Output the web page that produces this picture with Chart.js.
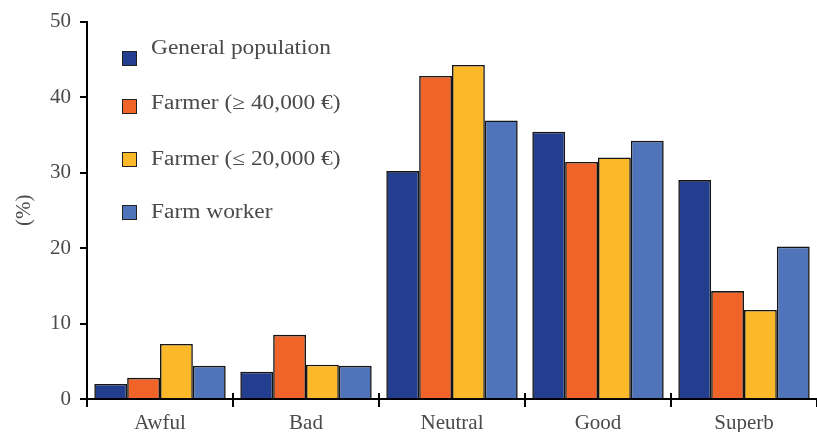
<!DOCTYPE html>
<html>
<head>
<meta charset="utf-8">
<script src="https://cdn.jsdelivr.net/npm/chart.js@4.4.1/dist/chart.umd.min.js"></script>
<style>
  html, body { margin: 0; padding: 0; background: #fff; }
  #wrap { position: relative; width: 817px; height: 432px; }
  #legend { position: absolute; left: 0; top: 0; font-family: 'Liberation Serif', serif; font-size: 20px; color: #4a4a4a; }
  .item { position: absolute; white-space: nowrap; transform: scaleX(1.17); transform-origin: left center; }
  .box { position: absolute; width: 13px; height: 13px; border: 1px solid #222; }
</style>
</head>
<body>
<div id="wrap">
  <canvas id="ratingChart" width="817" height="432"></canvas>
  <div id="legend"></div>
</div>
<script>
// data
const categories = ['Awful', 'Bad', 'Neutral', 'Good', 'Superb'];
const seriesNames = ['General population', 'Farmer (\u2265 40,000 \u20ac)', 'Farmer (\u2264 20,000 \u20ac)', 'Farm worker'];
const generalPopulation = [2.0, 3.6, 30.2, 35.4, 29.0];
const farmerHigh = [2.8, 8.5, 42.8, 31.4, 14.3];
const farmerLow = [7.3, 4.55, 44.25, 32.0, 11.8];
const farmWorker = [4.4, 4.4, 36.9, 34.2, 20.2];
const yTicks = [0, 10, 20, 30, 40, 50];

const colors = ['#233e8e', '#f0642a', '#fbb829', '#4f74ba'];
const seriesValues = [generalPopulation, farmerHigh, farmerLow, farmWorker];

const serif = "'Liberation Serif', 'Times New Roman', serif";

// small tick marks that cross the x axis between categories
const crossTicks = {
    id: 'crossTicks',
    afterDraw(chart) {
        const x = chart.scales.x;
        const y0 = chart.scales.y.getPixelForValue(0);
        const ctx = chart.ctx;
        ctx.save();
        ctx.strokeStyle = '#000';
        ctx.lineWidth = 2;
        for (let i = 1; i < categories.length; i++) {
            const px = (x.getPixelForValue(i - 1) + x.getPixelForValue(i)) / 2;
            ctx.beginPath();
            ctx.moveTo(px, y0 - 6);
            ctx.lineTo(px, y0);
            ctx.stroke();
        }
        ctx.restore();
    }
};

const ctx = document.getElementById('ratingChart').getContext('2d');
const ratingChart = new Chart(ctx, {
    type: 'bar',
    data: {
        labels: categories,
        datasets: seriesNames.map((name, i) => ({
            label: name,
            data: seriesValues[i],
            backgroundColor: colors[i],
            borderColor: '#151515',
            borderWidth: 1.6,
            categoryPercentage: 0.9,
            barPercentage: 1.0
        }))
    },
    options: {
        responsive: false,
        animation: false,
        layout: { padding: { top: 19, right: 0, bottom: 0, left: 0 } },
        plugins: {
            legend: { display: false },
            tooltip: { enabled: false }
        },
        scales: {
            x: {
                afterFit: s => { s.height = 33; },
                border: { color: '#000', width: 2 },
                grid: { offset: true, drawOnChartArea: false, color: '#000', lineWidth: 2, tickLength: 8 },
                ticks: { color: '#4a4a4a', padding: 4, font: { family: serif, size: 21 } }
            },
            y: {
                min: 0,
                max: 50,
                afterFit: s => { s.width = 87; },
                afterBuildTicks: s => { s.ticks = yTicks.map(v => ({ value: v })); },
                border: { color: '#000', width: 2 },
                grid: { drawOnChartArea: false, color: '#000', lineWidth: 2, tickLength: 7 },
                ticks: { color: '#4a4a4a', padding: 9, font: { family: serif, size: 21 } },
                title: { display: true, text: '(%)', color: '#4a4a4a', padding: { top: 12, bottom: 0 }, font: { family: serif, size: 21 } }
            }
        }
    },
    plugins: [crossTicks]
});

// legend drawn as html, positioned like the reference
const legend = document.getElementById('legend');
const boxTops = [51, 99, 152, 205];
const textMids = [48, 103, 159, 212];
seriesNames.forEach((name, i) => {
    const box = document.createElement('div');
    box.className = 'box';
    box.style.left = '122px';
    box.style.top = boxTops[i] + 'px';
    box.style.background = colors[i];
    legend.appendChild(box);
    const label = document.createElement('div');
    label.className = 'item';
    label.textContent = name;
    label.style.left = '151px';
    label.style.top = (textMids[i] - 12) + 'px';
    legend.appendChild(label);
});
</script>
</body>
</html>
